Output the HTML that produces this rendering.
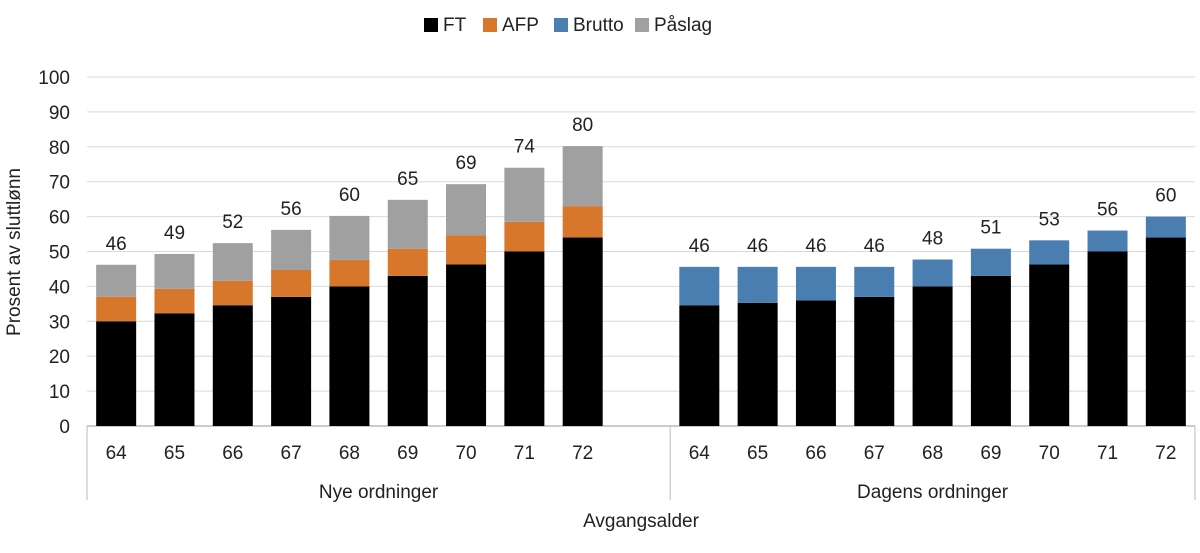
<!DOCTYPE html>
<html><head><meta charset="utf-8"><style>
body{margin:0;background:#fff;font-family:"Liberation Sans",Arial,sans-serif}
svg text{font-family:"Liberation Sans",Arial,sans-serif;fill:#222}
</style></head><body>
<svg id="c" width="1200" height="548" viewBox="0 0 1200 548" xmlns="http://www.w3.org/2000/svg">
<g id="legend">
<rect x="424" y="18" width="14" height="14" fill="#000"/>
<text x="443" y="31" font-size="19">FT</text>
<rect x="483" y="18" width="14" height="14" fill="#d7772c"/>
<text x="502" y="31" font-size="19">AFP</text>
<rect x="554" y="18" width="14" height="14" fill="#4a7eb0"/>
<text x="573" y="31" font-size="19">Brutto</text>
<rect x="635" y="18" width="14" height="14" fill="#a0a0a0"/>
<text x="654" y="31" font-size="19">Påslag</text>
</g>
<g id="grid"></g><g id="bars"></g><g id="axes"></g>
<text x="0" y="0" font-size="19" text-anchor="middle" transform="translate(20,252) rotate(-90)">Prosent av sluttlønn</text>
<text x="641" y="527" font-size="19" text-anchor="middle">Avgangsalder</text>
</svg>
<script>
const categories=["64","65","66","67","68","69","70","71","72"];
const groups=["Nye ordninger","Dagens ordninger"];
const yTicks=[0,10,20,30,40,50,60,70,80,90,100];
const nyeFT=[30,32.3,34.6,37,40,43,46.3,50,54];
const nyeAFP=[7,7,7,7.7,7.6,7.8,8.3,8.5,9];
const nyePaslag=[9.2,10,10.8,11.5,12.6,14,14.7,15.5,17.2];
const nyeLabels=[46,49,52,56,60,65,69,74,80];
const dagFT=[34.6,35.3,36,37,40,43,46.3,50,54];
const dagBrutto=[11,10.3,9.6,8.6,7.7,7.8,6.9,6,6];
const dagLabels=[46,46,46,46,48,51,53,56,60];
const NS="http://www.w3.org/2000/svg";
const x0=87,x1=1195,slots=19,sw=(x1-x0)/slots,bw=40;
const yB=426,yT=77;
const y=v=>yB-(yB-yT)*v/100;
const slotX=(g,i)=>x0+sw*(g*10+i)+sw/2;
function mk(t,a,p){const e=document.createElementNS(NS,t);for(const k in a)e.setAttribute(k,a[k]);p.appendChild(e);return e;}
const grid=document.getElementById('grid'),bars=document.getElementById('bars'),axes=document.getElementById('axes');
yTicks.forEach(t=>{
 const l=mk('line',{x1:x0,x2:x1,y1:y(t),y2:y(t),stroke:t===0?'#999':'#d9d9d9','stroke-width':1},grid);
 
 
 const tx=mk('text',{x:70,y:y(t)+7,'font-size':19,'text-anchor':'end'},axes);tx.textContent=t;
 
 
});
function seg(cx,b,h,col,name){const r=mk('rect',{x:cx-bw/2,y:y(b+h),width:bw,height:y(b)-y(b+h),fill:col},bars);
 
 }
function lab(cx,v,top,g){const t=mk('text',{x:cx,y:y(top)-15,'font-size':19,'text-anchor':'middle'},bars);t.textContent=v;
 
 }
categories.forEach((c,i)=>{
 let cx=slotX(0,i);
 seg(cx,0,nyeFT[i],'#000','bar-nye-ft-'+c);
 seg(cx,nyeFT[i],nyeAFP[i],'#d7772c','bar-nye-afp-'+c);
 const top=nyeFT[i]+nyeAFP[i]+nyePaslag[i];
 seg(cx,nyeFT[i]+nyeAFP[i],nyePaslag[i],'#a0a0a0','bar-nye-paslag-'+c);
 lab(cx,nyeLabels[i],top,'nye-'+c);
 const t=mk('text',{x:cx,y:459,'font-size':19,'text-anchor':'middle'},axes);t.textContent=c;
 
 
 cx=slotX(1,i);
 seg(cx,0,dagFT[i],'#000','bar-dagens-ft-'+c);
 seg(cx,dagFT[i],dagBrutto[i],'#4a7eb0','bar-dagens-brutto-'+c);
 lab(cx,dagLabels[i],dagFT[i]+dagBrutto[i],'dagens-'+c);
 const t2=mk('text',{x:cx,y:459,'font-size':19,'text-anchor':'middle'},axes);t2.textContent=c;
 
 
});
const sep=x0+sw*10;
[x0,sep,x1].forEach((xx,k)=>{const l=mk('line',{x1:xx,x2:xx,y1:yB,y2:500,stroke:'#bbb'},axes);
 
 });
[[x0,sep],[sep,x1]].forEach((r,g)=>{const t=mk('text',{x:(r[0]+r[1])/2,y:498,'font-size':19,'text-anchor':'middle'},axes);t.textContent=groups[g];
 
 });
</script>
</body></html>
